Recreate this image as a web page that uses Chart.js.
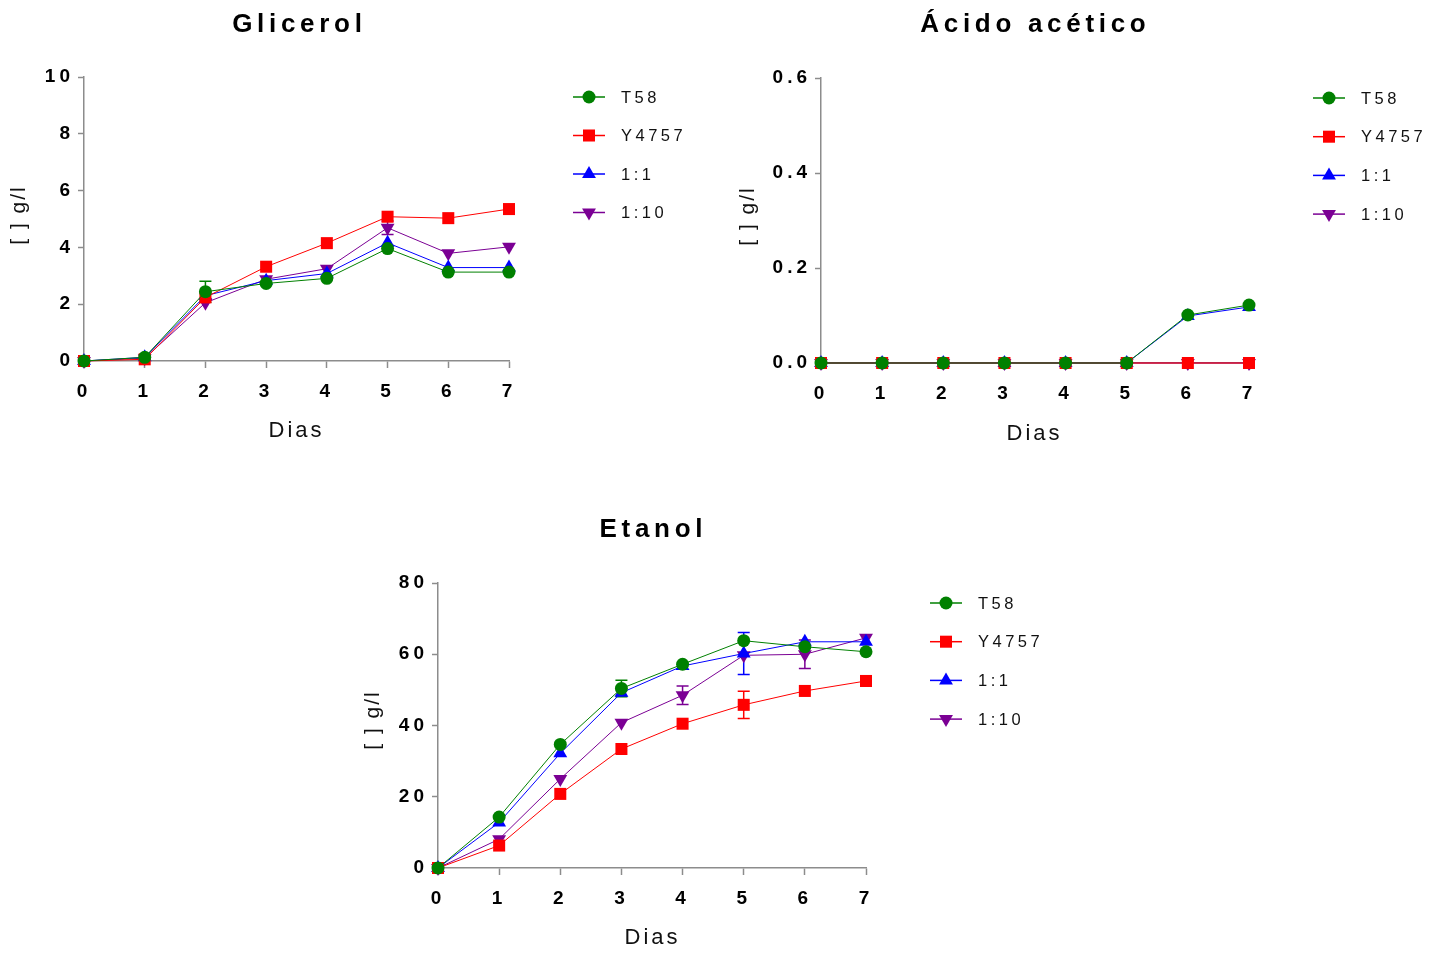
<!DOCTYPE html>
<html>
<head>
<meta charset="utf-8">
<script src="https://cdn.jsdelivr.net/npm/chart.js@4.4.1/dist/chart.umd.min.js"></script>
<style>
html, body { margin: 0; padding: 0; background: #fff; }
#wrap { position: relative; width: 1443px; height: 954px; }
canvas { position: absolute; left: 0; top: 0; }
</style>
</head>
<body>
<div id="wrap">
  <canvas id="glicerol" width="1443" height="954"></canvas>
  <canvas id="acetico" width="1443" height="954"></canvas>
  <canvas id="etanol" width="1443" height="954"></canvas>
</div>
<script>
// days on the x axis
var days = ['0', '1', '2', '3', '4', '5', '6', '7'];
var seriesNames = ['T58', 'Y4757', '1:1', '1:10'];

// Glicerol (g/l)
var glyT58 = [0, 0.13, 2.44, 2.73, 2.91, 3.96, 3.13, 3.13];
var glyY4757 = [0, 0.06, 2.24, 3.32, 4.15, 5.08, 5.03, 5.35];
var gly11 = [0, 0.13, 2.30, 2.83, 3.08, 4.16, 3.29, 3.29];
var gly110 = [0, 0.10, 2.05, 2.88, 3.25, 4.69, 3.79, 4.02];
var glyT58Err = [0, 0, 0.37, 0, 0, 0, 0, 0];
var gly110Err = [0, 0, 0, 0, 0, 0.24, 0, 0];
var glyTicks = [0, 2, 4, 6, 8, 10];

// Acido acetico (g/l)
var aceT58 = [0, 0, 0, 0, 0, 0, 0.101, 0.122];
var aceY4757 = [0, 0, 0, 0, 0, 0, 0, 0];
var ace11 = [0, 0, 0, 0, 0, 0, 0.099, 0.118];
var ace110 = [0, 0, 0, 0, 0, 0, 0, 0];
var aceTicks = [0, 0.2, 0.4, 0.6];

// Etanol (g/l)
var etaT58 = [0, 14.3, 34.7, 50.4, 57.2, 63.8, 62.1, 60.7];
var etaY4757 = [0, 6.3, 20.8, 33.4, 40.5, 45.8, 49.7, 52.5];
var eta11 = [0, 12.8, 32.2, 49.2, 56.7, 60.2, 63.5, 63.5];
var eta110 = [0, 8.1, 25.0, 40.8, 48.5, 59.7, 60.0, 64.6];
var etaT58Err = [0, 0, 0, 2.3, 0, 0, 0, 0];
var etaY4757Err = [0, 0, 0, 0, 0, 3.8, 0, 0];
var eta11Err = [0, 0, 0, 0, 0, 5.9, 0, 0];
var eta110Err = [0, 0, 0, 0, 2.6, 0, 4.0, 0];
var etaTicks = [0, 20, 40, 60, 80];

var FONT = '"Liberation Sans", Arial, Helvetica, sans-serif';
var W = 1443, H = 954;
var colors = ['#008000', '#ff0000', '#0000ff', '#7b0094'];
var styles = ['circle', 'rect', 'triangle', 'triangle'];
var rotations = [0, 0, 0, 180];
var radii = [6.5, 8.5, 8, 8];
var axisGrey = '#8c8c8c';

function spaced(ctx, text, x, y, spacing, align) {
    ctx.letterSpacing = spacing + 'px';
    ctx.textAlign = align;
    // canvas adds spacing after the last glyph too
    if (align == 'center') x += spacing / 2;
    ctx.fillText(text, x, y);
}

var panelPlugin = {
    id: 'panel',
    beforeDraw: function (chart) {
        chart.ctx.letterSpacing = '4px';
    },
    beforeDatasetsDraw: function (chart) {
        var ctx = chart.ctx, ys = chart.scales.y;
        chart.data.datasets.forEach(function (ds, i) {
            if (!ds.errors) return;
            var meta = chart.getDatasetMeta(i);
            ds.errors.forEach(function (e, j) {
                if (!e) return;
                var px = meta.data[j].x;
                var top = ys.getPixelForValue(ds.data[j] + e);
                var bot = ys.getPixelForValue(ds.data[j] - e);
                ctx.save();
                ctx.strokeStyle = ds.borderColor;
                ctx.lineWidth = 1.5;
                ctx.beginPath();
                ctx.moveTo(px, top); ctx.lineTo(px, bot);
                ctx.moveTo(px - 6, top); ctx.lineTo(px + 6, top);
                ctx.moveTo(px - 6, bot); ctx.lineTo(px + 6, bot);
                ctx.stroke();
                ctx.restore();
            });
        });
    },
    afterDraw: function (chart, args, opts) {
        var ctx = chart.ctx;
        ctx.save();
        ctx.fillStyle = '#000';
        ctx.textBaseline = 'middle';

        ctx.font = 'bold 26px ' + FONT;
        spaced(ctx, opts.title.text, opts.title.x, opts.title.y, 4.7, 'center');

        ctx.fillStyle = '#111';
        ctx.font = '22px ' + FONT;
        spaced(ctx, 'Dias', opts.xLabel.x, opts.xLabel.y, 3, 'center');

        ctx.save();
        ctx.translate(opts.yLabel.x, opts.yLabel.y);
        ctx.rotate(-Math.PI / 2);
        ctx.font = '21px ' + FONT;
        spaced(ctx, '[ ] g/l', 0, 0, 2, 'center');
        ctx.restore();

        // legend: short line with the marker in the middle
        var lg = opts.legend;
        chart.data.datasets.forEach(function (ds, i) {
            var y = lg.y + i * lg.dy;
            ctx.strokeStyle = ds.borderColor;
            ctx.fillStyle = ds.backgroundColor;
            ctx.lineWidth = 1.5;
            ctx.beginPath();
            ctx.moveTo(lg.x - 16, y);
            ctx.lineTo(lg.x + 16, y);
            ctx.stroke();
            Chart.helpers.drawPoint(ctx, {
                pointStyle: ds.pointStyle, rotation: ds.pointRotation,
                radius: ds.pointRadius, borderWidth: 0
            }, lg.x, y);
            ctx.fillStyle = '#111';
            ctx.font = '16.5px ' + FONT;
            spaced(ctx, ds.label, lg.x + 32, y + 1, 3.5, 'left');
        });
        ctx.restore();
    }
};

function makeDatasets(values, errors) {
    return values.map(function (v, i) {
        return {
            label: seriesNames[i],
            data: v,
            errors: errors[i],
            borderColor: colors[i],
            backgroundColor: colors[i],
            borderWidth: 1,
            pointStyle: styles[i],
            pointRotation: rotations[i],
            pointRadius: radii[i],
            pointBorderWidth: 0,
            pointHoverRadius: radii[i],
            tension: 0,
            clip: false
        };
    });
}

function makeChart(id, panel) {
    var a = panel.area;
    return new Chart(document.getElementById(id), {
        type: 'line',
        data: { labels: days, datasets: makeDatasets(panel.values, panel.errors) },
        plugins: [panelPlugin],
        options: {
            responsive: false,
            animation: false,
            events: [],
            layout: { padding: { left: 0, top: a.t, right: W - a.r, bottom: H - a.b - 60 } },
            plugins: {
                legend: { display: false },
                tooltip: { enabled: false },
                panel: panel.text
            },
            scales: {
                x: {
                    type: 'category',
                    offset: false,
                    afterFit: function (s) { s.height = 60; },
                    border: { color: axisGrey, width: 1.5 },
                    grid: { offset: false, drawOnChartArea: false, drawTicks: true, tickLength: 7, tickColor: axisGrey, tickWidth: 1.5 },
                    ticks: { color: '#000', font: { family: FONT, size: 19, weight: 'bold' }, padding: 12, maxRotation: 0, autoSkip: false }
                },
                y: {
                    min: panel.ticks[0],
                    max: panel.ticks[panel.ticks.length - 1],
                    afterFit: function (s) { s.width = a.l; },
                    afterBuildTicks: function (s) {
                        s.ticks = panel.ticks.map(function (v) { return { value: v }; });
                    },
                    border: { color: axisGrey, width: 1.5 },
                    grid: { drawOnChartArea: false, drawTicks: true, tickLength: 6, tickColor: axisGrey, tickWidth: 1.5 },
                    ticks: {
                        color: '#000',
                        font: { family: FONT, size: 19, weight: 'bold' },
                        padding: 4,
                        callback: panel.format
                    }
                }
            }
        }
    });
}

makeChart('glicerol', {
    area: { l: 84, t: 77, r: 509, b: 361 },
    values: [glyT58, glyY4757, gly11, gly110],
    errors: [glyT58Err, null, null, gly110Err],
    ticks: glyTicks,
    format: function (v) { return String(v); },
    text: {
        title: { text: 'Glicerol', x: 297, y: 25 },
        xLabel: { x: 295, y: 431 },
        yLabel: { x: 19, y: 216 },
        legend: { x: 589, y: 97, dy: 38.5 }
    }
});

makeChart('acetico', {
    area: { l: 821, t: 78, r: 1249, b: 363 },
    values: [aceT58, aceY4757, ace11, ace110],
    errors: [null, null, null, null],
    ticks: aceTicks,
    format: function (v) { return v.toFixed(1); },
    text: {
        title: { text: 'Ácido acético', x: 1033, y: 25 },
        xLabel: { x: 1033, y: 434 },
        yLabel: { x: 748, y: 217 },
        legend: { x: 1329, y: 98, dy: 38.7 }
    }
});

makeChart('etanol', {
    area: { l: 438, t: 583, r: 866, b: 868 },
    values: [etaT58, etaY4757, eta11, eta110],
    errors: [etaT58Err, etaY4757Err, eta11Err, eta110Err],
    ticks: etaTicks,
    format: function (v) { return String(v); },
    text: {
        title: { text: 'Etanol', x: 651, y: 530 },
        xLabel: { x: 651, y: 938 },
        yLabel: { x: 373, y: 721 },
        legend: { x: 946, y: 603, dy: 38.7 }
    }
});
</script>
</body>
</html>
